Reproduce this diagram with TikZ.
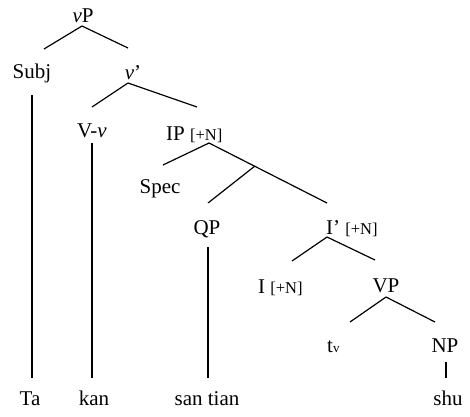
\documentclass[tikz,border=0pt]{standalone}
\usepackage{fontspec}
\setmainfont{Liberation Serif}
\usetikzlibrary{calc}
\begin{document}
\begin{tikzpicture}[x=1pt,y=-1pt,
  lab/.style={anchor=base,inner sep=0pt,font=\fontsize{21}{22}\selectfont},
  edge/.style={line width=1.2pt}]
\useasboundingbox (0,0) rectangle (470,416);
\newcommand{\fe}{{\fontsize{16.5}{17}\selectfont [+N]}}
% labels
\node[lab] (vP) at (83,22) {\textit{v}P};
\node[lab] (Subj) at (32,78) {Subj};
\node[lab] (vbar) at (133,79) {\textit{v}’};
\node[lab] (Vv) at (92,137) {V-\textit{v}};
\node[lab,anchor=base west] (IP) at (166,140) {IP \fe};
\node[lab] (Spec) at (160,193) {Spec};
\node[lab] (QP) at (207,234) {QP};
\node[lab,anchor=base west] (Ibar) at (326,234) {I’ \fe};
\node[lab,anchor=base west] (I) at (258,293) {I \fe};
\node[lab] (VP) at (386,292) {VP};
\node[lab,anchor=base west] (tv) at (327,352) {t\raisebox{-0.5pt}{\fontsize{13}{13}\selectfont v}};
\node[lab] (NP) at (445,352) {NP};
\node[lab] (Ta) at (30,405) {Ta};
\node[lab] (kan) at (94,405) {kan};
\node[lab] (santian) at (207,405) {san tian};
\node[lab] (shu) at (448,405) {shu};
% junction points
\coordinate (vPa) at (82,26);
\coordinate (Subjt) at (44,49);
\coordinate (vbart) at (128,48);
\coordinate (vbara) at (128,83);
\coordinate (Vvt) at (92,107);
\coordinate (IPt) at (197,107);
\coordinate (IPa) at (209,143);
\coordinate (Spect) at (163,165);
\coordinate (Ibart) at (327,203);
\coordinate (QPj) at ($(IPa)!0.387!(Ibart)$);
\coordinate (QPt) at (208,203);
\coordinate (Ibara) at (327,237);
\coordinate (It) at (292,261);
\coordinate (VPt) at (375,260);
\coordinate (VPa) at (386,297);
\coordinate (tvt) at (350,322);
\coordinate (NPt) at (435,322);
% lexical line ends
\coordinate (Subjb) at (32,95);
\coordinate (Tat) at (32,378);
\coordinate (Vvb) at (92,143);
\coordinate (kant) at (92,378);
\coordinate (QPb) at (208,247);
\coordinate (santiant) at (208,378);
\coordinate (NPb) at (446,362);
\coordinate (shut) at (446,378);
% branches
\draw[edge] (vPa) -- (Subjt);
\draw[edge] (vPa) -- (vbart);
\draw[edge] (vbara) -- (Vvt);
\draw[edge] (vbara) -- (IPt);
\draw[edge] (IPa) -- (Spect);
\draw[edge] (IPa) -- (Ibart);
\draw[edge] (QPj) -- (QPt);
\draw[edge] (Ibara) -- (It);
\draw[edge] (Ibara) -- (VPt);
\draw[edge] (VPa) -- (tvt);
\draw[edge] (VPa) -- (NPt);
% lexical lines
\draw[edge] (Subjb) -- (Tat);
\draw[edge] (Vvb) -- (kant);
\draw[edge] (QPb) -- (santiant);
\draw[edge] (NPb) -- (shut);
\end{tikzpicture}
\end{document}
